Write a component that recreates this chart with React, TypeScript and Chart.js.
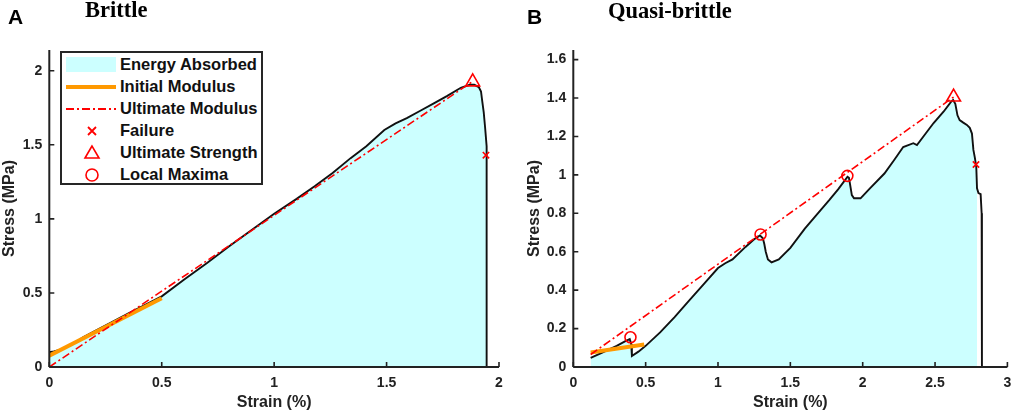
import React, { useEffect, useRef } from "react";
import { Chart, registerables } from "chart.js";

Chart.register(...registerables);

// ---- panel A (brittle) ----
const strainA = [0, 0.02, 0.05, 0.1, 0.15, 0.2, 0.27, 0.35, 0.42, 0.5, 0.6, 0.7, 0.8, 0.9, 1.0, 1.1, 1.18, 1.26, 1.34, 1.41, 1.49, 1.54, 1.59, 1.65, 1.71, 1.77, 1.83, 1.87, 1.89, 1.91, 1.92, 1.925, 1.932, 1.938, 1.945, 1.945];
const stressA = [0.1, 0.105, 0.117, 0.15, 0.2, 0.24, 0.297, 0.36, 0.415, 0.477, 0.59, 0.7, 0.815, 0.925, 1.035, 1.135, 1.22, 1.31, 1.41, 1.49, 1.6, 1.645, 1.68, 1.73, 1.78, 1.83, 1.885, 1.905, 1.905, 1.89, 1.86, 1.8, 1.72, 1.62, 1.49, 0];
const initStrainA = [0, 0.5];
const initStressA = [0.077, 0.464];
const ultStrainA = [0, 1.883];
const ultStressA = [0, 1.928];
const failureA = [1.942, 1.43];
const strengthA = [1.883, 1.925];
const xTicksA = [0, 0.5, 1, 1.5, 2];
const yTicksA = [0, 0.5, 1, 1.5, 2];

// ---- panel B (quasi-brittle) ----
const strainB = [0.12, 0.2, 0.3, 0.36, 0.39, 0.4, 0.405, 0.45, 0.5, 0.6, 0.7, 0.8, 0.9, 1.0, 1.05, 1.1, 1.19, 1.25, 1.29, 1.31, 1.32, 1.33, 1.345, 1.37, 1.42, 1.5, 1.6, 1.69, 1.77, 1.83, 1.87, 1.895, 1.905, 1.915, 1.925, 1.94, 1.985, 2.05, 2.15, 2.22, 2.28, 2.35, 2.375, 2.43, 2.49, 2.56, 2.61, 2.625, 2.64, 2.655, 2.67, 2.695, 2.72, 2.74, 2.755, 2.765, 2.775, 2.785, 2.79, 2.8, 2.815, 2.822, 2.824];
const stressB = [0.048, 0.075, 0.11, 0.135, 0.145, 0.12, 0.057, 0.08, 0.11, 0.18, 0.26, 0.345, 0.43, 0.515, 0.54, 0.56, 0.625, 0.665, 0.685, 0.67, 0.64, 0.6, 0.56, 0.545, 0.56, 0.62, 0.72, 0.8, 0.87, 0.925, 0.965, 0.99, 0.985, 0.94, 0.895, 0.878, 0.878, 0.93, 1.007, 1.08, 1.145, 1.165, 1.155, 1.21, 1.27, 1.33, 1.38, 1.39, 1.37, 1.31, 1.285, 1.272, 1.26, 1.245, 1.215, 1.13, 1.09, 1.04, 0.93, 0.905, 0.9, 0.8, 0];
const fillEndB = 2.79;
const initStrainB = [0.12, 0.49];
const initStressB = [0.075, 0.117];
const ultStrainB = [0.12, 2.628];
const ultStressB = [0.065, 1.405];
const failureB = [2.783, 1.054];
const strengthB = [2.628, 1.405];
const maximaStrainB = [0.395, 1.294, 1.894];
const maximaStressB = [0.155, 0.69, 0.995];
const xTicksB = [0, 0.5, 1, 1.5, 2, 2.5, 3];
const yTicksB = [0, 0.2, 0.4, 0.6, 0.8, 1, 1.2, 1.4, 1.6];

const FILL = "rgb(204,255,255)";
const ORANGE = "#ff9900";
const RED = "#ff0000";
const INK = "#222";
const SANS = "'Liberation Sans', Arial, sans-serif";
const SERIF = "'Liberation Serif', 'Times New Roman', serif";

const pts = (xs: number[], ys: number[]) => xs.map((x, i) => ({ x, y: ys[i] }));

// MATLAB style axes: ticks pointing inwards, axis lines drawn on top
const matlabAxes = {
    id: "matlabAxes",
    afterDatasetsDraw(chart: any) {
        const { ctx } = chart;
        const x = chart.scales.x;
        const y = chart.scales.y;
        ctx.save();
        ctx.strokeStyle = INK;
        ctx.lineWidth = 1.6;
        ctx.beginPath();
        x.ticks.forEach((_: any, i: number) => {
            const px = x.getPixelForTick(i);
            ctx.moveTo(px, x.top);
            ctx.lineTo(px, x.top - 5);
        });
        y.ticks.forEach((_: any, i: number) => {
            const py = y.getPixelForTick(i);
            ctx.moveTo(y.right, py);
            ctx.lineTo(y.right + 5, py);
        });
        ctx.stroke();
        ctx.lineWidth = 2;
        ctx.beginPath();
        ctx.moveTo(x.left, x.top);
        ctx.lineTo(x.right, x.top);
        ctx.moveTo(y.right, y.top);
        ctx.lineTo(y.right, y.bottom);
        ctx.stroke();
        ctx.restore();
    },
};

interface PanelProps {
    left: number;
    width: number;
    yAxisWidth: number;
    yTitlePad: number;
    padRight: number;
    xMax: number;
    yMax: number;
    xTicks: number[];
    yTicks: number[];
    datasets: any[];
}

function Panel({ left, width, yAxisWidth, yTitlePad, padRight, xMax, yMax, xTicks, yTicks, datasets }: PanelProps) {
    const canvasRef = useRef<HTMLCanvasElement>(null);
    useEffect(() => {
        const ctx = canvasRef.current?.getContext("2d");
        if (!ctx) return;
        const tickFont = { family: SANS, size: 14, weight: "bold" as const };
        const titleFont = { family: SANS, size: 16, weight: "bold" as const };
        const label = (v: any) => String(Number(v));
        const chart = new Chart(ctx, {
            type: "line",
            data: { datasets },
            options: {
                animation: false,
                responsive: true,
                maintainAspectRatio: false,
                layout: { padding: { top: 50, right: padRight, left: 0, bottom: 0 } },
                plugins: { legend: { display: false }, tooltip: { enabled: false } },
                scales: {
                    x: {
                        type: "linear",
                        min: 0,
                        max: xMax,
                        grid: { display: false, drawTicks: false },
                        border: { display: false },
                        afterBuildTicks: (s: any) => { s.ticks = xTicks.map((v) => ({ value: v })); },
                        afterFit: (s: any) => { s.height = 47; s.paddingLeft = 0; s.paddingRight = 0; },
                        ticks: { color: INK, font: tickFont, padding: 8, maxRotation: 0, callback: label },
                        title: { display: true, text: "Strain (%)", color: INK, font: titleFont, padding: { top: 0, bottom: 2 } },
                    },
                    y: {
                        type: "linear",
                        min: 0,
                        max: yMax,
                        grid: { display: false, drawTicks: false },
                        border: { display: false },
                        afterBuildTicks: (s: any) => { s.ticks = yTicks.map((v) => ({ value: v })); },
                        afterFit: (s: any) => { s.width = yAxisWidth; s.paddingTop = 0; s.paddingBottom = 0; },
                        ticks: { color: INK, font: tickFont, padding: 7, callback: label },
                        title: { display: true, text: "Stress (MPa)", color: INK, font: titleFont, padding: { top: yTitlePad, bottom: 0 } },
                    },
                },
            },
            plugins: [matlabAxes],
        });
        return () => {
            chart.destroy();
        };
    }, [datasets]);

    return (
        <div style={{ position: "absolute", left, top: 0, width, height: 414 }}>
            <canvas ref={canvasRef}></canvas>
        </div>
    );
}

const marker = (label: string, style: string, radius: number, data: any[]) => ({
    label,
    data,
    showLine: false,
    pointStyle: style,
    pointRadius: radius,
    pointBorderColor: RED,
    pointBackgroundColor: "rgba(0,0,0,0)",
    pointBorderWidth: 1.6,
});

const line = (label: string, data: any[], color: string, width: number, dash: number[] = []) => ({
    label,
    data,
    borderColor: color,
    borderWidth: width,
    borderDash: dash,
    pointRadius: 0,
    fill: false,
    tension: 0,
});

const datasetsA = [
    marker("Ultimate Strength", "triangle", 8, [{ x: strengthA[0], y: strengthA[1] }]),
    marker("Failure", "crossRot", 4.5, [{ x: failureA[0], y: failureA[1] }]),
    line("Ultimate Modulus", pts(ultStrainA, ultStressA), RED, 1.6, [8, 3, 2, 3]),
    line("Initial Modulus", pts(initStrainA, initStressA), ORANGE, 4),
    line("Stress", pts(strainA, stressA), "#111", 1.9),
    { ...line("Energy Absorbed", pts(strainA, stressA), FILL, 0), fill: "origin", backgroundColor: FILL },
];

const curveB = pts(strainB, stressB);
const energyB = curveB.filter((p) => p.x <= fillEndB).concat([{ x: fillEndB, y: 0 }]);

const datasetsB = [
    marker("Ultimate Strength", "triangle", 8, [{ x: strengthB[0], y: strengthB[1] }]),
    marker("Failure", "crossRot", 4.5, [{ x: failureB[0], y: failureB[1] }]),
    marker("Local Maxima", "circle", 5.5, pts(maximaStrainB, maximaStressB)),
    line("Ultimate Modulus", pts(ultStrainB, ultStressB), RED, 1.6, [8, 3, 2, 3]),
    line("Initial Modulus", pts(initStrainB, initStressB), ORANGE, 4),
    line("Stress", curveB, "#111", 1.9),
    { ...line("Energy Absorbed", energyB, FILL, 0), fill: "origin", backgroundColor: FILL },
];

const legendRows = ["Energy Absorbed", "Initial Modulus", "Ultimate Modulus", "Failure", "Ultimate Strength", "Local Maxima"];

function LegendSwatch({ index }: { index: number }) {
    const c = 10;
    return (
        <svg width={54} height={20} style={{ position: "absolute", left: 3, top: 0 }}>
            {index === 0 && <rect x={1} y={2} width={50} height={15} fill={FILL} />}
            {index === 1 && <line x1={1} y1={c} x2={51} y2={c} stroke={ORANGE} strokeWidth={4} />}
            {index === 2 && <line x1={1} y1={c} x2={51} y2={c} stroke={RED} strokeWidth={1.8} strokeDasharray="8 3 2 3" />}
            {index === 3 && <path d={`M${27 - 4} ${c - 4} L${27 + 4} ${c + 4} M${27 + 4} ${c - 4} L${27 - 4} ${c + 4}`} stroke={RED} strokeWidth={1.8} />}
            {index === 4 && <polygon points={`27,${c - 7} 20,${c + 5} 34,${c + 5}`} fill="none" stroke={RED} strokeWidth={1.6} />}
            {index === 5 && <circle cx={27} cy={c} r={6} fill="none" stroke={RED} strokeWidth={1.6} />}
        </svg>
    );
}

function Legend() {
    return (
        <div style={{ position: "absolute", left: 60, top: 51, width: 203, height: 134, boxSizing: "border-box", border: "2px solid #262626", background: "#fff" }}>
            {legendRows.map((label, i) => (
                <div key={label} style={{ position: "absolute", left: 0, top: 2 + i * 21.9, width: 199, height: 20 }}>
                    <LegendSwatch index={i} />
                    <span style={{ position: "absolute", left: 58, top: 0, lineHeight: "20px", font: `bold 16.5px ${SANS}`, color: "#111", whiteSpace: "nowrap" }}>{label}</span>
                </div>
            ))}
        </div>
    );
}

const textStyle = (left: number, top: number, font: string): React.CSSProperties => ({
    position: "absolute", left, top, font, lineHeight: 1, color: "#000", whiteSpace: "nowrap",
});

export default function App() {
    return (
        <div style={{ position: "fixed", left: 0, top: 0, width: 1017, height: 414, background: "#fff", overflow: "hidden" }}>
            <Panel left={0} width={510} yAxisWidth={49.3} yTitlePad={0} padRight={11} xMax={2} yMax={2.14} xTicks={xTicksA} yTicks={yTicksA} datasets={datasetsA} />
            <Panel left={510} width={507} yAxisWidth={63.3} yTitlePad={15} padRight={1.5} xMax={3} yMax={1.65} xTicks={xTicksB} yTicks={yTicksB} datasets={datasetsB} />
            <Legend />
            <div style={textStyle(8, 6, `bold 21px ${SANS}`)}>A</div>
            <div style={textStyle(85, -1, `bold 22.5px ${SERIF}`)}>Brittle</div>
            <div style={textStyle(527, 6, `bold 21px ${SANS}`)}>B</div>
            <div style={textStyle(608, 0, `bold 22.5px ${SERIF}`)}>Quasi-brittle</div>
        </div>
    );
}
